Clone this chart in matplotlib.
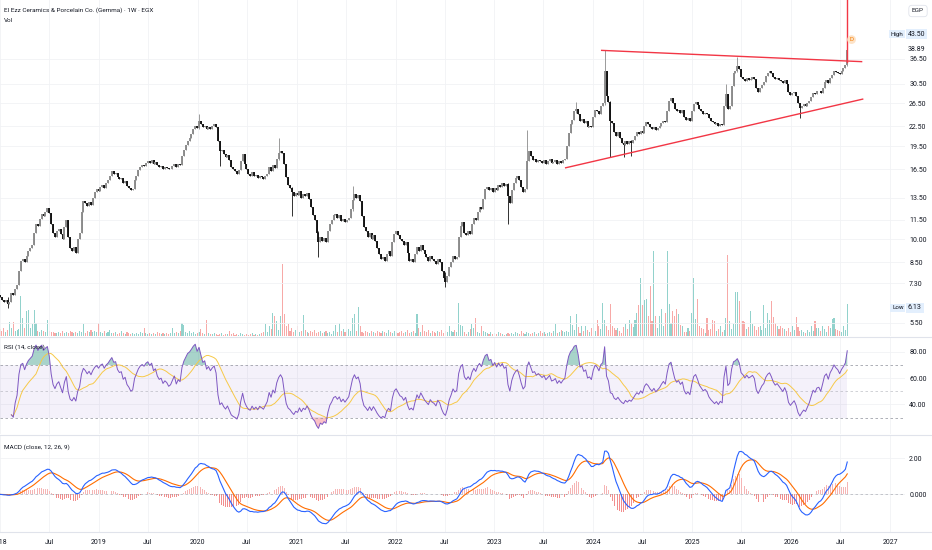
import matplotlib

matplotlib.use("Agg")
import matplotlib.dates as mdates
import matplotlib.pyplot as plt
import matplotlib.transforms as mtransforms
import numpy as np
import pandas as pd

plt.rcParams["font.family"] = ["Roboto", "DejaVu Sans"]

# weekly closes, Jan 2018 -> Jul 2026
closes = [
    6.6, 6.5, 6.4, 6.5, 6.3, 6.4, 6.8, 6.7, 7.0, 7.2,
    8.0, 8.6, 8.7, 8.5, 8.9, 9.2, 9.4, 9.6, 10.5, 11.2,
    11.0, 11.6, 12.0, 11.8, 12.2, 12.5, 12.1, 11.2, 10.5, 10.2,
    10.6, 10.8, 10.4, 10.0, 10.9, 11.5, 10.2, 9.4, 9.2, 9.5,
    9.1, 10.0, 10.5, 12.2, 13.2, 13.0, 12.7, 13.1, 12.8, 13.5,
    14.0, 14.3, 14.1, 14.6, 14.8, 14.5, 15.0, 15.3, 15.8, 16.3,
    16.0, 16.1, 15.6, 15.4, 15.5, 15.0, 15.2, 14.7, 14.5, 14.2,
    14.3, 15.3, 15.8, 16.4, 16.8, 17.0, 16.9, 17.3, 17.5, 17.3,
    17.6, 17.2, 17.4, 17.0, 16.8, 16.9, 16.6, 16.8, 16.7, 16.5,
    16.6, 16.9, 17.2, 16.8, 17.1, 17.0, 18.2, 19.0, 19.6, 20.3,
    20.6, 21.2, 22.0, 22.6, 22.2, 23.3, 22.8, 22.3, 22.6, 22.0,
    22.4, 22.1, 22.5, 22.8, 22.3, 20.2, 18.8, 19.0, 18.4, 18.0,
    18.3, 17.6, 16.8, 16.5, 16.3, 16.0, 16.4, 17.5, 18.4, 17.2,
    16.5, 16.0, 15.8, 16.2, 15.7, 15.9, 15.5, 15.8, 15.6, 15.4,
    15.7, 16.0, 16.8, 16.3, 17.0, 16.7, 17.8, 18.5, 18.9, 18.6,
    17.2, 15.6, 14.8, 14.5, 14.0, 13.6, 13.9, 13.7, 14.1, 13.5,
    13.8, 13.6, 13.9, 13.4, 12.6, 11.9, 11.5, 10.5, 9.8, 10.2,
    9.9, 10.1, 9.8, 10.6, 11.2, 11.5, 11.9, 12.0, 11.7, 11.9,
    11.4, 11.6, 11.3, 11.5, 11.7, 12.4, 13.3, 13.8, 13.5, 13.7,
    13.2, 11.8, 10.9, 10.6, 10.2, 10.5, 10.0, 10.3, 9.9, 9.4,
    9.0, 8.7, 8.8, 8.6, 9.0, 9.2, 8.9, 9.8, 10.4, 10.6,
    10.3, 10.0, 9.9, 9.6, 9.8, 9.1, 8.6, 8.7, 8.5, 9.0,
    9.5, 9.2, 9.6, 9.3, 9.0, 8.8, 8.6, 8.9, 8.7, 8.6,
    8.4, 8.7, 8.5, 8.0, 7.6, 7.4, 7.7, 8.2, 8.5, 8.9,
    8.7, 8.8, 10.2, 11.0, 11.3, 10.5, 10.3, 10.6, 10.4, 11.2,
    11.7, 11.5, 12.2, 12.6, 12.4, 13.4, 14.3, 14.6, 14.2, 14.4,
    14.0, 14.5, 14.2, 14.8, 14.6, 15.0, 14.7, 14.9, 13.6, 13.0,
    14.2, 15.0, 15.5, 15.8, 15.3, 14.6, 14.0, 14.3, 17.5, 18.8,
    18.2, 17.6, 17.8, 17.4, 17.7, 17.5, 17.3, 17.6, 17.2, 17.5,
    17.8, 17.3, 17.4, 17.6, 17.2, 17.5, 17.3, 17.6, 17.8, 19.5,
    21.4, 22.8, 23.5, 25.0, 25.4, 24.6, 23.3, 23.6, 23.0, 23.3,
    22.4, 22.6, 22.3, 24.0, 25.2, 25.0, 24.6, 26.0, 26.5, 33.5,
    28.0, 26.8, 23.3, 23.0, 21.5, 21.0, 21.6, 20.7, 20.0, 19.6,
    20.3, 19.8, 20.2, 19.9, 20.4, 21.0, 21.5, 21.2, 21.8, 21.4,
    22.6, 23.1, 22.8, 22.3, 22.0, 22.4, 21.9, 22.2, 22.5, 23.0,
    23.4, 23.1, 25.0, 27.0, 27.5, 26.5, 25.5, 25.0, 25.3, 24.8,
    25.2, 24.0, 23.5, 23.8, 23.4, 25.0, 26.4, 26.8, 26.2, 25.4,
    25.0, 24.6, 24.8, 24.5, 23.8, 23.4, 23.1, 22.8, 23.0, 22.6,
    22.9, 22.7, 26.0, 28.4, 25.5, 26.0, 30.0, 33.0, 33.5, 34.5,
    33.8, 32.0, 31.6, 31.0, 31.8, 31.3, 31.6, 32.0, 31.5, 29.5,
    28.7, 29.5, 30.3, 30.8, 32.2, 33.0, 33.4, 32.8, 32.0, 31.5,
    31.8, 31.4, 31.0, 30.6, 31.2, 30.5, 28.8, 28.2, 28.5, 28.8,
    28.0, 26.5, 25.6, 26.0, 26.3, 26.0, 26.5, 27.0, 27.8, 28.6,
    28.3, 28.9, 29.0, 28.5, 29.5, 30.8, 31.2, 30.6, 31.8, 32.5,
    33.5, 33.2, 33.0, 32.6, 33.4, 34.0, 34.8, 38.89,
]
first_open = 6.7

# notable wicks: week index -> (high, low)
wicks = {
    4: (6.6, 6.13), 105: (24.5, 22.0), 116: (20.3, 16.9), 147: (20.6, 17.6),
    154: (14.6, 11.8), 168: (10.6, 8.8), 186: (14.7, 12.3), 235: (7.9, 7.1),
    268: (15.0, 11.2), 278: (21.9, 14.3), 304: (26.7, 24.8), 319: (38.7, 26.2),
    322: (27.0, 18.0), 329: (20.3, 18.0), 333: (20.4, 18.2), 383: (30.5, 25.8),
    389: (36.8, 33.2), 422: (26.6, 23.9), 447: (43.5, 34.6),
}

# weekly volume (relative units)
volumes = [
    7, 5, 8, 4, 6, 14, 8, 14, 5, 6,
    7, 40, 18, 8, 25, 26, 8, 12, 26, 13,
    5, 4, 6, 5, 4, 16, 5, 4, 4, 3,
    3, 4, 3, 5, 3, 4, 3, 5, 4, 3,
    4, 3, 5, 4, 12, 3, 5, 4, 6, 4,
    5, 4, 13, 4, 3, 5, 3, 4, 6, 3,
    3, 4, 2, 3, 5, 3, 2, 4, 3, 2,
    3, 2, 3, 2, 4, 3, 8, 3, 2, 3,
    2, 3, 2, 4, 3, 2, 3, 2, 3, 2,
    3, 8, 3, 4, 3, 5, 13, 11, 4, 3,
    5, 3, 4, 2, 3, 4, 7, 3, 2, 16,
    3, 2, 2, 3, 2, 1, 2, 3, 1, 2,
    2, 5, 2, 3, 1, 2, 1, 3, 2, 1,
    2, 1, 2, 3, 1, 2, 1, 2, 3, 4,
    12, 4, 10, 7, 23, 20, 15, 6, 20, 71,
    22, 10, 12, 5, 8, 4, 6, 10, 4, 5,
    21, 6, 4, 3, 5, 4, 6, 3, 4, 5,
    3, 4, 5, 3, 4, 2, 5, 11, 4, 13,
    5, 7, 4, 6, 7, 5, 18, 22, 5, 29,
    10, 4, 3, 5, 4, 3, 5, 4, 3, 5,
    4, 3, 5, 4, 3, 6, 4, 3, 5, 4,
    3, 4, 5, 3, 4, 6, 3, 4, 5, 3,
    22, 8, 4, 11, 5, 4, 6, 3, 5, 4,
    3, 5, 4, 6, 3, 5, 4, 10, 5, 4,
    6, 4, 33, 11, 10, 4, 2, 4, 7, 12,
    8, 18, 4, 3, 10, 5, 4, 3, 2, 4,
    2, 3, 2, 4, 3, 2, 1, 2, 3, 2,
    3, 2, 4, 3, 2, 5, 3, 2, 4, 3,
    2, 3, 4, 2, 3, 5, 3, 4, 2, 3,
    4, 3, 5, 12, 3, 4, 6, 5, 4, 5,
    4, 20, 11, 6, 22, 9, 3, 10, 5, 10,
    6, 4, 8, 13, 5, 16, 10, 7, 33, 16,
    10, 6, 32, 10, 8, 6, 8, 5, 3, 9,
    12, 7, 16, 13, 9, 16, 23, 31, 57, 31,
    36, 37, 20, 49, 15, 84, 20, 8, 20, 27,
    10, 23, 84, 32, 13, 25, 20, 27, 22, 11,
    10, 4, 4, 8, 5, 23, 57, 17, 37, 10,
    8, 7, 3, 18, 6, 7, 16, 15, 5, 7,
    10, 4, 6, 18, 80, 15, 7, 12, 43, 43,
    35, 15, 15, 14, 7, 9, 25, 12, 10, 6,
    9, 10, 6, 31, 8, 23, 16, 35, 19, 13,
    10, 7, 10, 8, 7, 5, 8, 4, 10, 6,
    19, 9, 5, 6, 4, 3, 6, 4, 10, 5,
    15, 8, 8, 5, 10, 7, 4, 10, 8, 17,
    18, 7, 6, 5, 4, 10, 6, 32,
]

price_ticks = [5.5, 7.3, 8.5, 10.0, 11.5, 13.5, 16.5, 19.5, 22.5, 26.5, 30.5, 36.5]
rsi_ticks = [40, 60, 80]
rsi_tick_labels = ["40.00", "60.00", "80.00"]
macd_ticks = [0.0, 2.0]
macd_tick_labels = ["0.000", "2.00"]

# drawings on the chart: (date, price)
upper_trend = [("2024-02-01", 38.7), ("2026-09-18", 35.7)]
lower_trend = [("2023-09-21", 16.7), ("2026-09-22", 27.3)]
breakout_line = [("2026-07-26", 35.6), ("2026-07-26", 70.0)]
dividend_mark = ("2026-08-12", 41.8)

title = "El Ezz Ceramics & Porcelain Co. (Gemma) · 1W · EGX"

TEXT = "#131722"
GRID = "#f1f2f5"
UP, DOWN = "#8a8a8a", "#111111"
VOL_UP, VOL_DOWN = "#92d2cc", "#f7a9a7"

dates = pd.date_range(end="2026-07-27", periods=len(closes), freq="W-MON")
xs = mdates.date2num(dates)
c = np.array(closes)
o = np.concatenate([[first_open], c[:-1]])
hi = np.maximum(o, c)
lo = np.minimum(o, c)
for i, (h, l) in wicks.items():
    hi[i] = max(hi[i], h)
    lo[i] = min(lo[i], l)
up = c >= o
cols = np.where(up, UP, DOWN)

# indicators
s = pd.Series(c)
delta = s.diff()
gain = delta.clip(lower=0).ewm(alpha=1 / 14, adjust=False, min_periods=6).mean()
loss = (-delta.clip(upper=0)).ewm(alpha=1 / 14, adjust=False, min_periods=6).mean()
rsi = 100 - 100 / (1 + gain / loss)
rsi_ma = rsi.rolling(14, min_periods=1).mean()
macd = s.ewm(span=12, adjust=False).mean() - s.ewm(span=26, adjust=False).mean()
signal = macd.ewm(span=9, adjust=False).mean()
hist = macd - signal

W, H = 932, 550
fig = plt.figure(figsize=(W / 100, H / 100), dpi=100)
fig.patch.set_facecolor("white")


def box(top, bottom, right=905):
    return [0, 1 - bottom / H, right / W, (bottom - top) / H]


x_left = mdates.date2num(pd.Timestamp("2018-01-01"))
x_right = x_left + 905 / 98.9 * 365.25

ax_v = fig.add_axes(box(0, 336))
ax_v.bar(xs, volumes, width=4.0, color=np.where(up, VOL_UP, VOL_DOWN), linewidth=0)
ax_v.set_ylim(0, max(volumes) * 336 / 85)
ax_v.set_xlim(x_left, x_right)
ax_v.axis("off")

ax_p = fig.add_axes(box(0, 336), facecolor="none")
ax_r = fig.add_axes(box(338, 434), sharex=ax_p)
ax_m = fig.add_axes(box(435, 532), sharex=ax_p)

for ax in (ax_p, ax_r, ax_m):
    for sp in ax.spines.values():
        sp.set_visible(False)
    ax.yaxis.tick_right()
    ax.tick_params(axis="both", length=0, labelsize=5, colors=TEXT, pad=3)
    ax.grid(True, color=GRID, linewidth=0.6)
    ax.set_axisbelow(True)

# candles
ax_p.vlines(xs, lo, hi, colors=cols, linewidth=0.6)
ax_p.vlines(xs, np.minimum(o, c), np.maximum(o, c), colors=cols, linewidth=1.35)
ax_p.set_yscale("log")
ax_p.set_ylim(5.01, 55.5)
ax_p.set_yticks(price_ticks)
ax_p.set_yticklabels([f"{v:.2f}" for v in price_ticks])
ax_p.yaxis.set_minor_locator(matplotlib.ticker.NullLocator())
ax_p.set_xlim(x_left, x_right)

for line in (upper_trend, lower_trend, breakout_line):
    lx = mdates.date2num(pd.to_datetime([p[0] for p in line]))
    ax_p.plot(lx, [p[1] for p in line], color="#f23645", linewidth=1.0, clip_on=True)

dx = mdates.date2num(pd.Timestamp(dividend_mark[0]))
ax_p.text(dx, dividend_mark[1], "D", color="#f57c00", fontsize=4.5, ha="center", va="center",
          bbox=dict(boxstyle="circle,pad=0.3", fc="#fde3c8", ec="none"))

tr = mtransforms.blended_transform_factory(ax_p.transAxes, ax_p.transData)
xr = 1 + 3 / 905
ax_p.text(xr, c[-1], f"{c[-1]:.2f}", transform=tr, fontsize=5, color=TEXT, va="center")
for lbl, val in (("High", hi.max()), ("Low", lo.min())):
    ax_p.text(0.9985, val, lbl, transform=tr, fontsize=4.5, color=TEXT, ha="right", va="center",
              bbox=dict(fc="#e3effd", ec="none", pad=1.2))
    ax_p.text(xr, val, f"{val:.2f}", transform=tr, fontsize=5, color=TEXT, va="center",
              bbox=dict(fc="#e3effd", ec="none", pad=1.2))

# RSI
ax_r.fill_between(xs, 30, 70, color="#7e57c2", alpha=0.08, linewidth=0)
ax_r.fill_between(xs, rsi, 70, where=rsi > 70, color="#3f9f8a", alpha=0.45, linewidth=0, interpolate=True)
ax_r.fill_between(xs, rsi, 30, where=rsi < 30, color="#f23645", alpha=0.3, linewidth=0, interpolate=True)
for lvl, a in ((70, 0.9), (50, 0.5), (30, 0.9)):
    ax_r.axhline(lvl, color="#9598a1", linestyle=(0, (3, 3)), linewidth=0.6, alpha=a)
ax_r.plot(xs, rsi_ma, color="#f7c948", linewidth=0.7)
ax_r.plot(xs, rsi, color="#7e57c2", linewidth=0.7)
ax_r.set_ylim(17.5, 90.5)
ax_r.set_yticks(rsi_ticks)
ax_r.set_yticklabels(rsi_tick_labels)

# MACD
ax_m.bar(xs, hist, width=3.2, color=np.where(hist >= 0, "#f5b5b5", "#f28e8e"), linewidth=0)
ax_m.axhline(0, color="#9598a1", linestyle=(0, (3, 3)), linewidth=0.6, alpha=0.6)
ax_m.plot(xs, signal, color="#ff6d00", linewidth=0.8)
ax_m.plot(xs, macd, color="#2962ff", linewidth=0.8)
ax_m.set_ylim(-2.07, 3.27)
ax_m.set_yticks(macd_ticks)
ax_m.set_yticklabels(macd_tick_labels)

ax_m.xaxis.set_major_locator(mdates.MonthLocator(bymonth=[1, 7]))
ax_m.xaxis.set_major_formatter(matplotlib.ticker.FuncFormatter(
    lambda v, pos: str(mdates.num2date(v).year) if mdates.num2date(v).month == 1 else "Jul"))
ax_m.tick_params(axis="x", pad=5)
ax_p.tick_params(axis="x", labelbottom=False)
ax_r.tick_params(axis="x", labelbottom=False)

for y in (337, 434.5, 532):
    fig.add_artist(plt.Line2D([0, 1], [1 - y / H, 1 - y / H], transform=fig.transFigure,
                              color="#e0e3eb", linewidth=0.8))

fig.text(4 / W, 1 - 10 / H, title, fontsize=4.6, color=TEXT, va="center")
fig.text(4 / W, 1 - 21 / H, "Vol", fontsize=4.6, color=TEXT, va="center")
fig.text(4 / W, 1 - 347 / H, "RSI (14, close)", fontsize=4.6, color=TEXT, va="center")
fig.text(4 / W, 1 - 447 / H, "MACD (close, 12, 26, 9)", fontsize=4.6, color=TEXT, va="center")
fig.text(918 / W, 1 - 11 / H, "EGP", fontsize=4.6, color=TEXT, ha="center", va="center",
         bbox=dict(boxstyle="round,pad=0.5", fc="white", ec="#e0e3eb", linewidth=0.6))

fig.savefig("out.png", dpi=100)
